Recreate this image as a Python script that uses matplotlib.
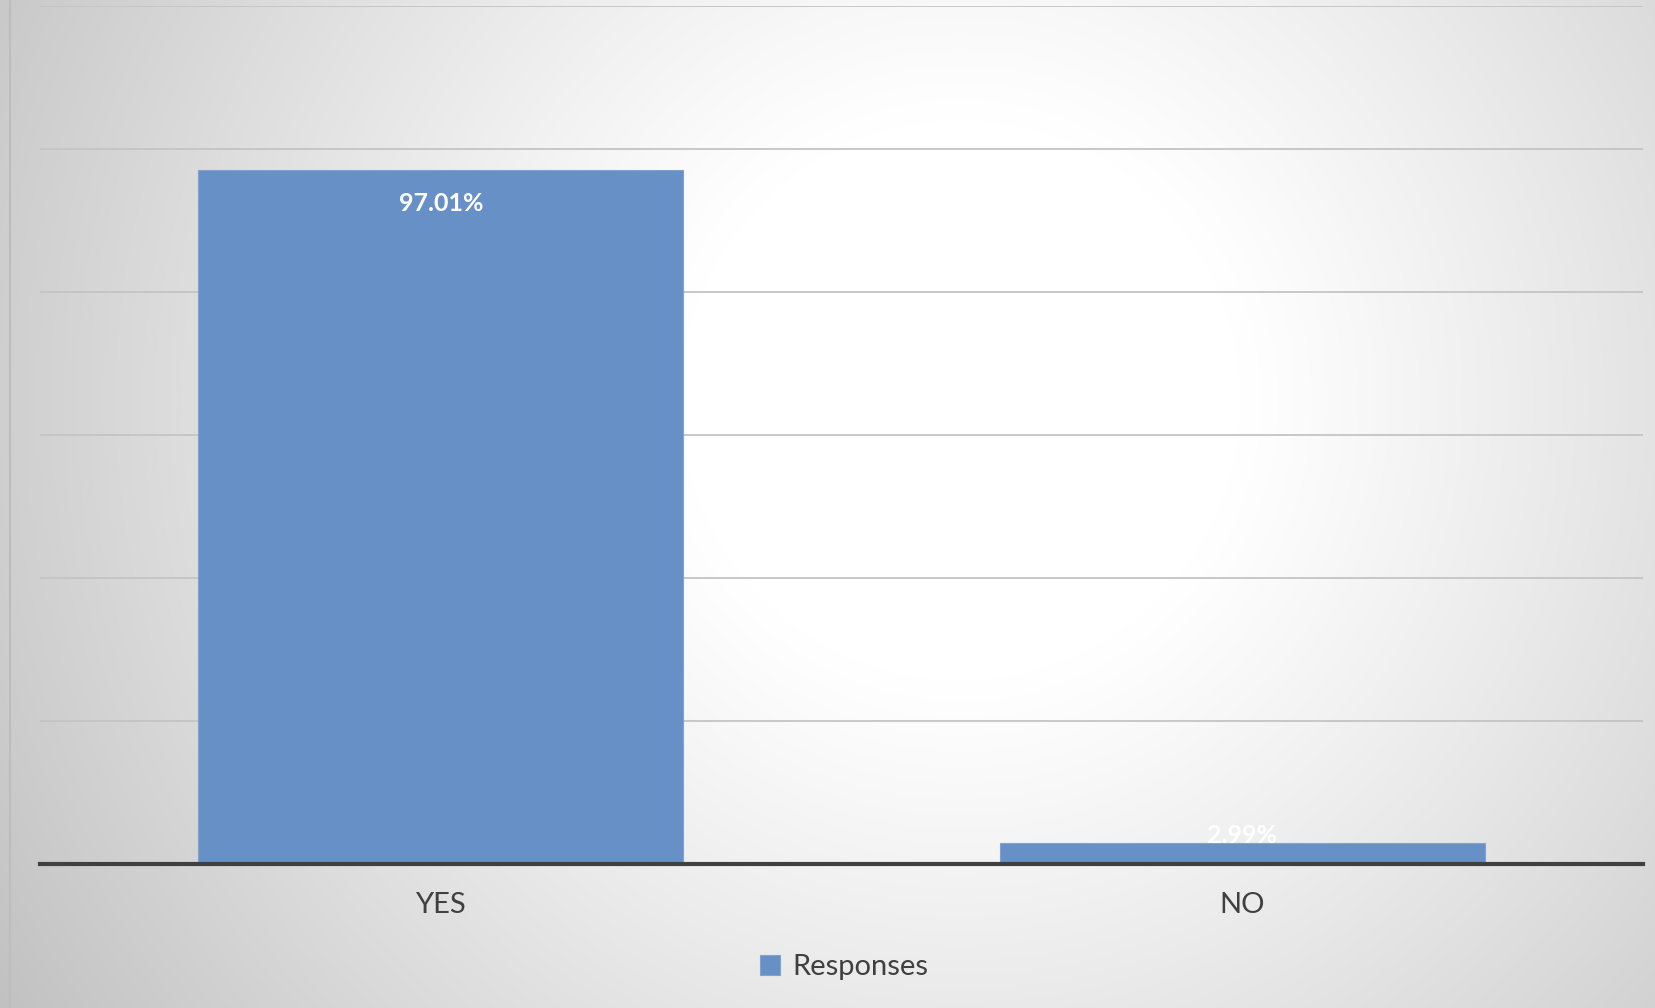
import matplotlib.pyplot as plt
import numpy as np

# data
categories = ['YES', 'NO']
responses = [97.01, 2.99]
value_labels = ['97.01%', '2.99%']

plt.rcParams['font.family'] = ['Lato', 'DejaVu Sans']

W, H = 1655, 1008
fig = plt.figure(figsize=(W / 100, H / 100), dpi=100)

# radial gradient background
bg = fig.add_axes([0, 0, 1, 1], zorder=0)
yy, xx = np.mgrid[0:H, 0:W]
r = np.hypot(xx - 960, yy - 400)
shade = 255 - 62 * np.clip((r - 280) / 860, 0, 1) ** 1.1
img = np.dstack([shade, shade, shade]).astype(np.uint8)
bg.imshow(img, aspect='auto', extent=[0, W, H, 0])
bg.set_xlim(0, W)
bg.set_ylim(H, 0)
bg.axvline(10, color='#bdbdbd', lw=1.5)
bg.axis('off')

ax = fig.add_axes([40 / W, 1 - 864 / H, (1643 - 40) / W, (864 - 6) / H], zorder=1)
ax.patch.set_alpha(0)

x = np.arange(len(categories))
bars = ax.bar(x, responses, width=0.605, color='#6791c6', edgecolor='#7fa3d0',
              linewidth=0.8, zorder=3)

ax.set_xlim(-0.5, 1.5)
ax.set_ylim(0, 120)
ax.set_yticks(np.arange(20, 121, 20))
ax.yaxis.grid(True, color='#c4c4c4', lw=1.3, zorder=1)
ax.tick_params(axis='y', left=False, labelleft=False)
ax.set_xticks(x)
ax.set_xticklabels(categories, fontsize=21, color='#404040')
ax.tick_params(axis='x', length=0, pad=20)
for s in ['left', 'right', 'top']:
    ax.spines[s].set_visible(False)
ax.spines['bottom'].set_color('#404040')
ax.spines['bottom'].set_linewidth(3)
ax.spines['bottom'].set_zorder(4)

# data labels (inside end, pushed up when the bar is too short)
for b, lab in zip(bars, value_labels):
    h = b.get_height()
    off = -24 if h > 10 else 5
    ax.annotate(lab, (b.get_x() + b.get_width() / 2, h), xytext=(0, off),
                textcoords='offset points', ha='center', va='center',
                color='white', fontsize=18, fontweight='bold', zorder=5)

# legend
leg = fig.legend([bars[0]], ['Responses'], loc='center', bbox_to_anchor=(844 / W, 1 - 967 / H),
                 frameon=False, fontsize=21, handlelength=0.7, handleheight=0.7,
                 handletextpad=0.4)
for t in leg.get_texts():
    t.set_color('#404040')

fig.savefig('out.png', dpi=100)
